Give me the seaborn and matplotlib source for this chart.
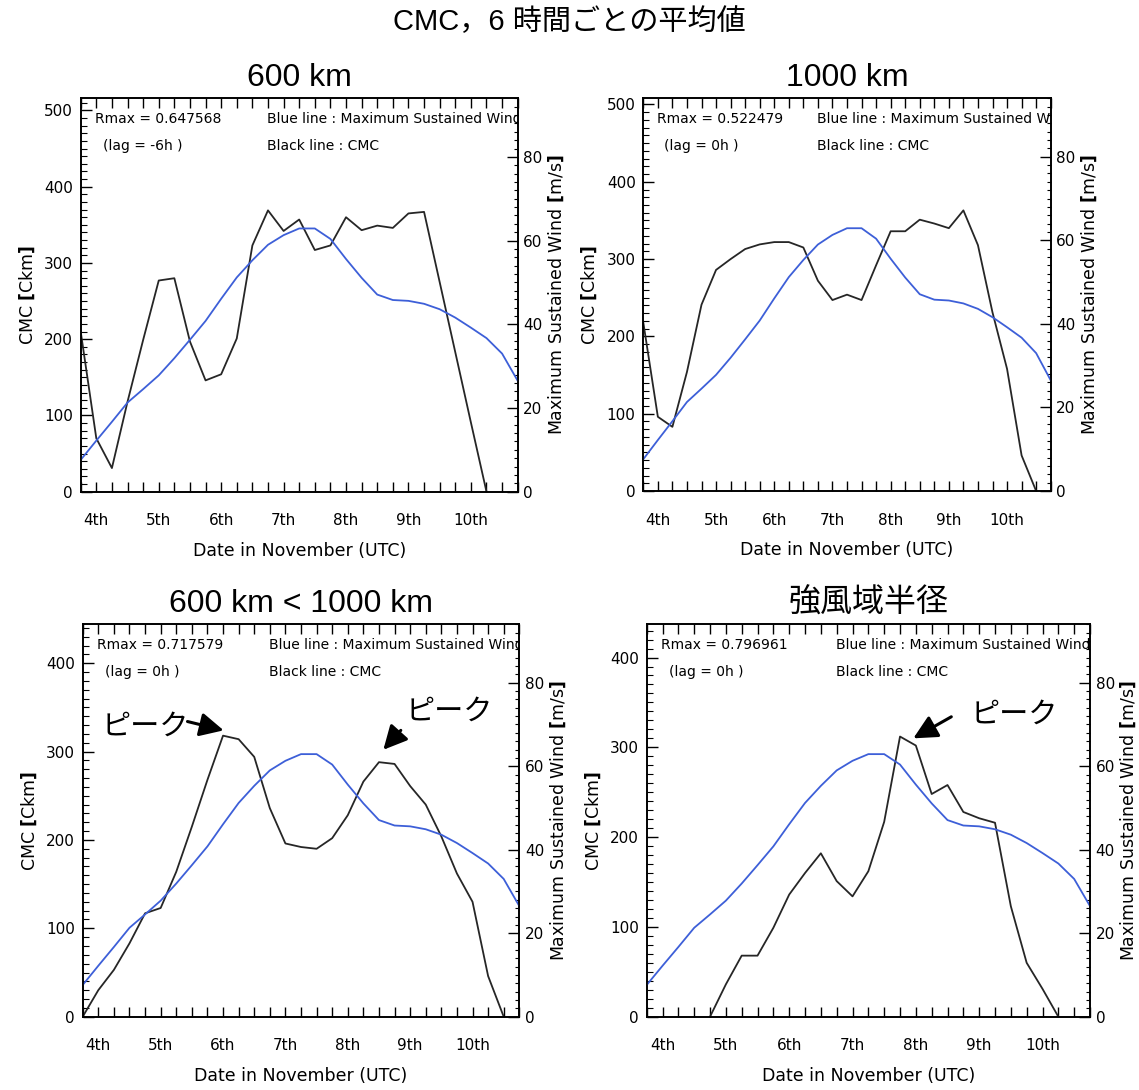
import numpy as np
import matplotlib
matplotlib.use("Agg")
import matplotlib.pyplot as plt
import seaborn as sns
from matplotlib.ticker import FixedLocator, MultipleLocator

nan = np.nan

# ---------------- data (6-hourly, day of November, UTC) ----------------
time_days = [3.75, 4.0, 4.25, 4.5, 4.75, 5.0, 5.25, 5.5, 5.75, 6.0, 6.25, 6.5,
             6.75, 7.0, 7.25, 7.5, 7.75, 8.0, 8.25, 8.5, 8.75, 9.0, 9.25, 9.5,
             9.75, 10.0, 10.25, 10.5, 10.75]

# Maximum sustained wind [m/s] (blue line, right axis)
wind = [7.6, 12.2, 16.7, 21.3, 24.5, 27.8, 31.9, 36.3, 40.8, 46.1, 51.2, 55.3,
        59.0, 61.3, 62.9, 62.9, 60.4, 55.6, 51.1, 47.1, 45.8, 45.6, 44.9, 43.6,
        41.6, 39.2, 36.7, 33.0, 26.5]

# CMC [Ckm] (black line, left axis)
cmc_600 = [210, 70, 31, 118, 199, 277, 280, 197, 146, 154, 201, 323,
           369, 342, 357, 317, 323, 360, 343, 349, 346, 365, 367, 275,
           183, 91, 0, nan, nan]
cmc_1000 = [218, 96, 83, 154, 241, 286, 300, 313, 319, 322, 322, 315,
            272, 247, 254, 247, 292, 336, 336, 351, 346, 340, 363, 318,
            231, 158, 46, 0, nan]
cmc_600_1000 = [0, 30, 53, 83, 117, 123, 164, 215, 268, 318, 314, 294,
                236, 196, 192, 190, 202, 228, 266, 288, 286, 261, 240, 204,
                162, 130, 46, 0, nan]
cmc_gale = [nan, nan, nan, nan, 0, 36, 68, 68, 99, 136, 160, 182,
            151, 134, 162, 217, 312, 302, 248, 258, 228, 221, 216, 123,
            60, 31, 0, nan, nan]

panel_titles = ["600 km", "1000 km", "600 km < 1000 km", "強風域半径"]
rmax_values = ["0.647568", "0.522479", "0.717579", "0.796961"]
lag_values = ["-6h", "0h", "0h", "0h"]
day_ticks = [4, 5, 6, 7, 8, 9, 10]
day_labels = ["4th", "5th", "6th", "7th", "8th", "9th", "10th"]
quarter_ticks = [3.75, 4.25, 4.5, 4.75, 5.25, 5.5, 5.75, 6.25, 6.5, 6.75, 7.25,
                 7.5, 7.75, 8.25, 8.5, 8.75, 9.25, 9.5, 9.75, 10.25, 10.5, 10.75]
suptitle = "CMC，6 時間ごとの平均値"
peak_label = "ピーク"

# ---------------- style ----------------
sns.set_theme(style="ticks", rc={
    "axes.edgecolor": "black", "text.color": "black", "axes.labelcolor": "black",
    "xtick.color": "black", "ytick.color": "black", "axes.linewidth": 1.2,
})
plt.rcParams["font.family"] = ["DejaVu Sans", "Noto Sans CJK JP"]
plt.rcParams["mathtext.fontset"] = "dejavusans"

W, H = 1139, 1090
fig = plt.figure(figsize=(W / 100, H / 100), dpi=100)

# axes boxes in pixels: left, top, right, bottom
boxes = [(80.7, 98.3, 517.7, 491.7),
         (643.3, 98.3, 1050.7, 491.0),
         (82.7, 624.3, 519.3, 1016.7),
         (646.7, 624.3, 1090.0, 1016.7)]
cmc_sets = [cmc_600, cmc_1000, cmc_600_1000, cmc_gale]
left_tops = [516, 508, 444, 437]
right_top = 94

BLACK = "#262626"
BLUE = "#3d5fd8"

axes = []
for i, (l, t, r, b) in enumerate(boxes):
    ax = fig.add_axes([l / W, 1 - b / H, (r - l) / W, (b - t) / H])
    ax2 = ax.twinx()
    sns.lineplot(x=time_days, y=cmc_sets[i], ax=ax, color=BLACK, lw=1.3)
    sns.lineplot(x=time_days, y=wind, ax=ax2, color=BLUE, lw=1.3)

    ax.set_xlim(3.75, 10.75)
    ax.set_ylim(0, left_tops[i])
    ax2.set_ylim(0, right_top)

    ax.set_xticks(day_ticks)
    ax.set_xticklabels(day_labels)
    ax.xaxis.set_minor_locator(FixedLocator(quarter_ticks))
    ax.set_yticks([0, 100, 200, 300, 400, 500] if left_tops[i] > 500 else [0, 100, 200, 300, 400])
    ax.yaxis.set_minor_locator(MultipleLocator(10))
    ax2.set_yticks([0, 20, 40, 60, 80])
    ax2.yaxis.set_minor_locator(MultipleLocator(2))

    ax.tick_params(axis="x", which="both", direction="in", top=True, bottom=True,
                   length=7, width=1, pad=15.5, labelsize=11)
    ax.tick_params(axis="y", which="major", direction="in", left=True, right=False,
                   length=8, width=1, pad=5.5, labelsize=11)
    ax.tick_params(axis="y", which="minor", direction="in", left=True, right=False,
                   length=4, width=0.8)
    ax2.tick_params(axis="y", which="major", direction="in", length=8, width=1,
                    pad=4, labelsize=11)
    ax2.tick_params(axis="y", which="minor", direction="in", length=3, width=0.8)
    for sp in list(ax.spines.values()) + list(ax2.spines.values()):
        sp.set_linewidth(1.2)
        sp.set_color("black")

    wpx = r - l
    hpx = b - t
    ax.set_xlabel("Date in November (UTC)", fontsize=12.5)
    ax.xaxis.set_label_coords(0.5, -50 / hpx)
    ax.set_ylabel(r"CMC $\mathbf{[}$Ckm$\mathbf{]}$", fontsize=12.5)
    ax.yaxis.set_label_coords(-44 / wpx, 0.5)
    ax2.set_ylabel(r"Maximum Sustained Wind $\mathbf{[}$m/s$\mathbf{]}$", fontsize=12.5)
    ax2.yaxis.set_label_coords(1 + 29 / wpx, 0.5)

    ax.set_title(panel_titles[i], fontsize=23, pad=9,
                 family=["Liberation Sans", "Noto Sans CJK JP"])

    ax.text(0.033, 0.948, f"Rmax = {rmax_values[i]}", transform=ax.transAxes,
            fontsize=10, ha="left", va="center", clip_on=True)
    ax.text(0.05, 0.878, f"(lag = {lag_values[i]} )", transform=ax.transAxes,
            fontsize=10, ha="left", va="center", clip_on=True)
    ax.text(0.427, 0.948, "Blue line : Maximum Sustained Wind", transform=ax.transAxes,
            fontsize=10, ha="left", va="center", clip_on=True)
    ax.text(0.427, 0.878, "Black line : CMC", transform=ax.transAxes,
            fontsize=10, ha="left", va="center", clip_on=True)
    axes.append(ax)

# ---------------- peak annotations ----------------
peak_font = dict(fontsize=21, family=["Noto Sans CJK JP"], va="center", ha="left")
arrow_kw = dict(arrowstyle="-|>,head_length=0.9,head_width=0.45", lw=2.2,
                color="black", mutation_scale=16, shrinkA=0, shrinkB=0)
ax3, ax4 = axes[2], axes[3]
ax3.text(4.05, 328, peak_label, **peak_font)
ax3.annotate("", xy=(6.01, 324), xytext=(5.43, 334), arrowprops=arrow_kw)
ax3.text(8.93, 345, peak_label, **peak_font)
ax3.annotate("", xy=(8.57, 302), xytext=(8.85, 324), arrowprops=arrow_kw)
ax4.text(8.87, 336, peak_label, **peak_font)
ax4.annotate("", xy=(7.96, 310), xytext=(8.56, 334), arrowprops=arrow_kw)

fig.text(0.5, 1 - 22 / H, suptitle, ha="center", va="center", fontsize=21,
         family=["Liberation Sans", "Noto Sans CJK JP"])

fig.savefig("out.png", dpi=100)
